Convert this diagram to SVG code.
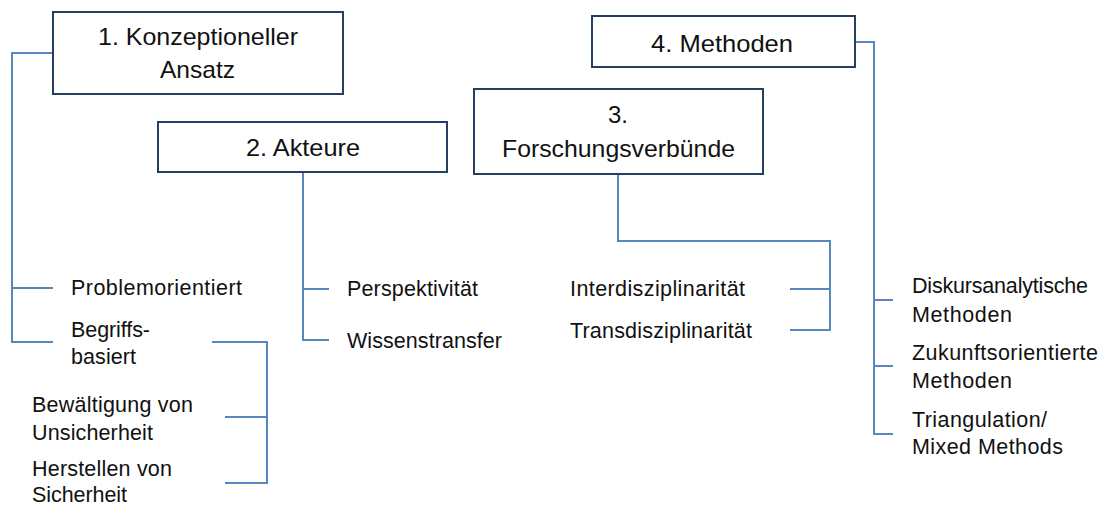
<svg xmlns="http://www.w3.org/2000/svg" width="1102" height="506" viewBox="0 0 1102 506">
<style>
.box{fill:#fff;stroke:#243f60;stroke-width:2}
.con{fill:none;stroke:#5a86c0;stroke-width:2}
text{font-family:"Liberation Sans",Arial,sans-serif;font-size:21.5px;fill:#111}
.h{font-size:24px}
</style>
<rect width="1102" height="506" fill="#fff"/>
<g id="connectors">
<path class="con" d="M53,53H12V342H53M12,288H53"/>
<path class="con" d="M303,172V340H329M303,289H329"/>
<path class="con" d="M618,174V241H830V330H790M790,289H830"/>
<path class="con" d="M855,42H874V434H893M874,300H893M874,366H893"/>
<path class="con" d="M212,342H267V483H225M225,417H267"/>
</g>
<g id="n1"><rect class="box" x="53" y="12" width="290" height="82"/>
<text class="h" x="98" y="45" textLength="200" lengthAdjust="spacingAndGlyphs">1. Konzeptioneller</text>
<text class="h" x="160" y="78" textLength="75" lengthAdjust="spacingAndGlyphs">Ansatz</text></g>
<g id="n2"><rect class="box" x="158" y="122" width="289" height="50"/>
<text class="h" x="246" y="156" textLength="114" lengthAdjust="spacingAndGlyphs">2. Akteure</text></g>
<g id="n3"><rect class="box" x="474" y="89" width="289" height="85"/>
<text class="h" x="608" y="123" textLength="20" lengthAdjust="spacingAndGlyphs">3.</text>
<text class="h" x="502" y="157" textLength="233" lengthAdjust="spacingAndGlyphs">Forschungsverbünde</text></g>
<g id="n4"><rect class="box" x="592" y="16" width="263" height="51"/>
<text class="h" x="651" y="52" textLength="142" lengthAdjust="spacingAndGlyphs">4. Methoden</text></g>
<g id="n1a"><text x="71" y="295" textLength="171">Problemorientiert</text></g>
<g id="n1b"><text x="71" y="337" textLength="79">Begriffs-</text><text x="71" y="364" textLength="65">basiert</text></g>
<g id="n1b1"><text x="32" y="412" textLength="161">Bewältigung von</text><text x="32" y="440" textLength="121">Unsicherheit</text></g>
<g id="n1b2"><text x="32" y="476" textLength="140">Herstellen von</text><text x="32" y="502" textLength="95">Sicherheit</text></g>
<g id="n2a"><text x="347" y="296" textLength="131">Perspektivität</text></g>
<g id="n2b"><text x="347" y="348" textLength="155">Wissenstransfer</text></g>
<g id="n3a"><text x="570" y="296" textLength="175">Interdisziplinarität</text></g>
<g id="n3b"><text x="570" y="338" textLength="182">Transdisziplinarität</text></g>
<g id="n4a"><text x="912" y="293" textLength="176">Diskursanalytische</text><text x="912" y="322" textLength="100">Methoden</text></g>
<g id="n4b"><text x="912" y="360" textLength="186">Zukunftsorientierte</text><text x="912" y="388" textLength="100">Methoden</text></g>
<g id="n4c"><text x="912" y="427" textLength="135">Triangulation/</text><text x="912" y="454" textLength="151">Mixed Methods</text></g>
</svg>
